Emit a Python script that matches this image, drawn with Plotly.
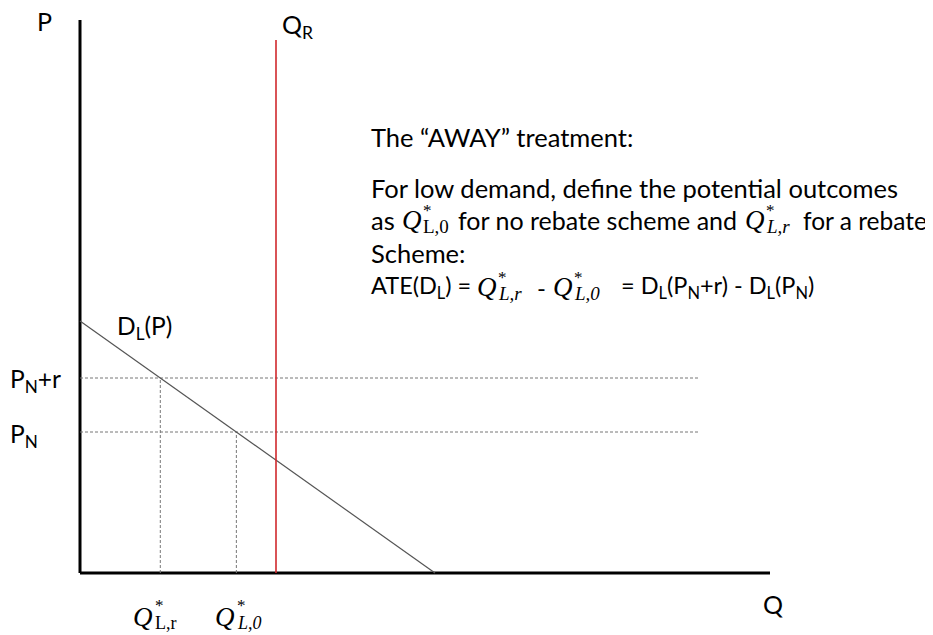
import plotly.graph_objects as go

# ---- data (arbitrary units: origin at axis corner) ----
axis_q_max = 690          # length of Q axis
axis_p_max = 553          # length of P axis
demand_q = [0, 355]       # demand line endpoints (quantity)
demand_p = [252, 0]       # demand line endpoints (price)
q_r = 196                 # vertical capacity line Q_R
q_r_top = 533
price_levels = [195, 141] # P_N + r, P_N
price_labels = ["P<sub>N</sub>+r", "P<sub>N</sub>"]
q_star_subs = ["L,r", "<i>L,0</i>"]
guide_end = 620           # where horizontal dashed guides end

# quantities demanded at each price (from the linear demand)
def demand(p):
    return demand_q[1] * (1 - p / demand_p[0])

q_star = [demand(p) for p in price_levels]

FONT = "Lato"
SERIF = "Liberation Serif"
BLACK = "#000000"
GRAY = "#555555"
RED = "#d0282c"
FS = 25.5
LAB = 25

fig = go.Figure()

# axes
fig.add_trace(go.Scatter(x=[0, 0], y=[0, axis_p_max], mode="lines",
                         line=dict(color=BLACK, width=3), hoverinfo="skip"))
fig.add_trace(go.Scatter(x=[0, axis_q_max], y=[0, 0], mode="lines",
                         line=dict(color=BLACK, width=3), hoverinfo="skip"))

# dashed guides
for p, q in zip(price_levels, q_star):
    fig.add_trace(go.Scatter(x=[0, guide_end], y=[p, p], mode="lines",
                             line=dict(color="#777777", width=1, dash="3px,2px"), hoverinfo="skip"))
    fig.add_trace(go.Scatter(x=[q, q], y=[0, p], mode="lines",
                             line=dict(color="#777777", width=1, dash="3px,2px"), hoverinfo="skip"))

# demand curve
fig.add_trace(go.Scatter(x=demand_q, y=demand_p, mode="lines",
                         line=dict(color=GRAY, width=1.2), hoverinfo="skip"))

# capacity line Q_R
fig.add_trace(go.Scatter(x=[q_r, q_r], y=[0, q_r_top], mode="lines",
                         line=dict(color=RED, width=1.6), hoverinfo="skip"))

def ann(x, y, text, size=FS, xanchor="left", yanchor="middle", family=FONT):
    fig.add_annotation(x=x, y=y, xref="x", yref="y", text=text, showarrow=False,
                       xanchor=xanchor, yanchor=yanchor, borderpad=0,
                       font=dict(family=family, size=size, color=BLACK))

def qstar(x_left, y, sub, qsize=27, gap=21):
    """Q with stacked * superscript and subscript (math style)."""
    ann(x_left, y, "<i>Q</i>", size=qsize, family=SERIF)
    ann(x_left + gap, y + 10, "*", size=17, family=SERIF)
    ann(x_left + gap, y - 6, sub, size=19, family=SERIF)

ann(-44, 552, "P", size=LAB, xanchor="left")
ann(q_r + 5, 547, "Q<sub>R</sub>", size=LAB)
ann(36, 246, "D<sub>L</sub>(P)", size=24.5)
ann(-71, price_levels[0] - 2, price_labels[0], size=24.5)
ann(-71, price_levels[1] - 3, price_labels[1], size=24.5)
ann(682, -31, "Q", size=LAB)

# stacked Q* labels below the quantity axis
for q, sub, off in zip(q_star, q_star_subs, [-6, 0]):
    ann(q + off, -44, "<i>Q</i>", size=27, xanchor="right", family=SERIF)
    ann(q + off, -32, "*", size=17, xanchor="left", family=SERIF)
    ann(q + off, -50, sub, size=18, xanchor="left", family=SERIF)

# explanatory text block
ann(290, 436, "The “AWAY” treatment:")
ann(290, 385, "For low demand, define the potential outcomes")

y_as = 353
ann(290, y_as, "as")
qstar(321, y_as, "L,0")
ann(377, y_as, "for no rebate scheme and", size=25)
qstar(664, y_as, "<i>L,r</i>")
ann(848, y_as, "for a rebate", size=24.5, xanchor="right")

ann(290, 320, "Scheme:")

y_ate = 286
ann(290, y_ate, "ATE(D<sub>L</sub>) =", size=23.5)
qstar(396, y_ate, "<i>L,r</i>")
ann(456, y_ate, "-", size=24)
qstar(472, y_ate, "<i>L,0</i>")
ann(540, y_ate, "= D<sub>L</sub>(P<sub>N</sub>+r) - D<sub>L</sub>(P<sub>N</sub>)", size=23.5)

# page has an 8px body margin: map page pixel px -> x = px - 80, y = 573 - py
fig.update_layout(
    width=933, height=635,
    margin=dict(l=0, r=0, t=0, b=0),
    paper_bgcolor="white", plot_bgcolor="white",
    showlegend=False,
    xaxis=dict(range=[-72, 861], visible=False, fixedrange=True),
    yaxis=dict(range=[-70, 565], visible=False, fixedrange=True),
)

fig.write_html("out.html")
